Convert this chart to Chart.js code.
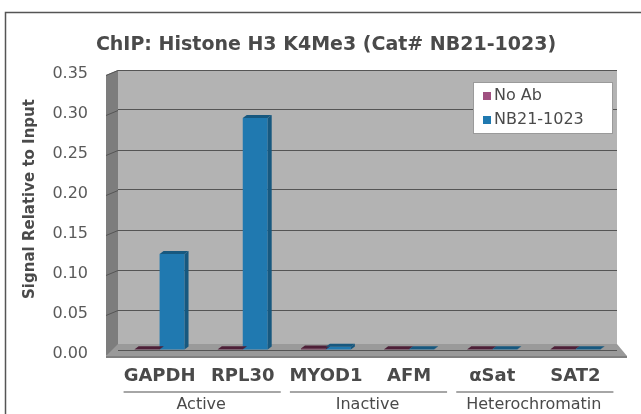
<!DOCTYPE html>
<html>
<head>
<meta charset="utf-8">
<script src="https://cdn.jsdelivr.net/npm/chart.js@4"></script>
<style>
  html, body { margin: 0; padding: 0; background: #fff; }
  #wrap { width: 641px; height: 414px; }
</style>
</head>
<body>
<div id="wrap"><canvas id="chipChart" width="641" height="414"></canvas></div>
<script>
// chart data
const categories = ['GAPDH', 'RPL30', 'MYOD1', 'AFM', 'αSat', 'SAT2'];
const groups = ['Active', 'Inactive', 'Heterochromatin'];
const seriesNames = ['No Ab', 'NB21-1023'];
const noAbValues = [0.001, 0.001, 0.002, 0.001, 0.001, 0.001];
const nb21Values = [0.12, 0.29, 0.004, 0.001, 0.001, 0.001];
const yTicks = [0, 0.05, 0.10, 0.15, 0.20, 0.25, 0.30, 0.35];

const FONT = 'DejaVu Sans';
const TEXT = '#4a4a4a';

// walls, floor, border, titles, group labels and legend
const decor = {
    id: 'decor',
    beforeDraw(chart) {
        const ctx = chart.ctx;
        const a = chart.chartArea;
        const y = chart.scales.y;
        ctx.save();
        // outer frame
        ctx.strokeStyle = '#555';
        ctx.lineWidth = 1.5;
        ctx.strokeRect(5.5, 12.5, 640, 410);
        // back wall
        ctx.fillStyle = '#b3b3b3';
        ctx.fillRect(a.left, a.top, a.right - a.left, a.bottom - a.top);
        // left side wall
        ctx.fillStyle = '#7d7d7d';
        ctx.beginPath();
        ctx.moveTo(a.left - 12, a.top + 5);
        ctx.lineTo(a.left, a.top);
        ctx.lineTo(a.left, a.bottom);
        ctx.lineTo(a.left - 12, a.bottom + 6);
        ctx.closePath();
        ctx.fill();
        // floor
        ctx.fillStyle = '#9a9a9a';
        ctx.beginPath();
        ctx.moveTo(a.left, a.bottom - 6);
        ctx.lineTo(a.right, a.bottom - 6);
        ctx.lineTo(a.right + 10, a.bottom + 6);
        ctx.lineTo(a.left - 12, a.bottom + 6);
        ctx.closePath();
        ctx.fill();
        ctx.fillStyle = '#808080';
        ctx.fillRect(a.left - 12, a.bottom + 6, a.right - a.left + 22, 2);
        // grid lines on side wall
        ctx.strokeStyle = '#555';
        ctx.lineWidth = 1;
        yTicks.forEach(v => {
            if (v === 0) return;
            const py = Math.round(y.getPixelForValue(v)) + 0.5;
            ctx.beginPath();
            ctx.moveTo(a.left - 12, py + 5);
            ctx.lineTo(a.left, py);
            ctx.stroke();
        });
        ctx.restore();
    },
    afterDatasetsDraw(chart) {
        // give each bar a darker right face and a top face
        const ctx = chart.ctx;
        ctx.save();
        chart.data.datasets.forEach((ds, i) => {
            chart.getDatasetMeta(i).data.forEach(bar => {
                const half = bar.width / 2;
                const r = bar.x + half;
                ctx.fillStyle = ds.sideColor;
                ctx.beginPath();
                ctx.moveTo(r, bar.y);
                ctx.lineTo(r + 4, bar.y - 3);
                ctx.lineTo(r + 4, bar.base - 3);
                ctx.lineTo(r, bar.base);
                ctx.closePath();
                ctx.fill();
                ctx.beginPath();
                ctx.moveTo(bar.x - half, bar.y);
                ctx.lineTo(bar.x - half + 4, bar.y - 3);
                ctx.lineTo(r + 4, bar.y - 3);
                ctx.lineTo(r, bar.y);
                ctx.closePath();
                ctx.fill();
            });
        });
        ctx.restore();
    },
    afterDraw(chart) {
        const ctx = chart.ctx;
        const x = chart.scales.x;
        ctx.save();
        // title
        ctx.fillStyle = TEXT;
        ctx.font = 'bold 19px "' + FONT + '"';
        ctx.textAlign = 'center';
        ctx.textBaseline = 'middle';
        ctx.fillText('ChIP: Histone H3 K4Me3 (Cat# NB21-1023)', 326, 45);
        // y axis title
        ctx.save();
        ctx.translate(30, 199);
        ctx.rotate(-Math.PI / 2);
        ctx.font = 'bold 15px "' + FONT + '"';
        ctx.fillText('Signal Relative to Input', 0, 0);
        ctx.restore();
        // group lines and labels under every pair of categories
        ctx.font = '16px "' + FONT + '"';
        groups.forEach((g, i) => {
            const x0 = x.getPixelForValue(i * 2);
            const x1 = x.getPixelForValue(i * 2 + 1);
            ctx.strokeStyle = '#a6a6a6';
            ctx.lineWidth = 2;
            ctx.beginPath();
            ctx.moveTo(x0 - 36, 392);
            ctx.lineTo(x1 + 38, 392);
            ctx.stroke();
            ctx.fillText(g, (x0 + x1) / 2, 405);
        });
        // legend box
        const lx = 473, ly = 82;
        ctx.fillStyle = '#fff';
        ctx.fillRect(lx, ly, 139, 51);
        ctx.strokeStyle = '#9a9a9a';
        ctx.lineWidth = 1;
        ctx.strokeRect(lx + 0.5, ly + 0.5, 139, 51);
        ctx.textAlign = 'left';
        ctx.font = '16px "' + FONT + '"';
        chart.data.datasets.forEach((ds, i) => {
            const cy = ly + 14 + i * 24;
            ctx.fillStyle = ds.legendColor;
            ctx.fillRect(lx + 10, cy - 4, 8, 8);
            ctx.fillStyle = TEXT;
            ctx.fillText(ds.label, lx + 21, cy);
        });
        ctx.restore();
    }
};

new Chart(document.getElementById('chipChart'), {
    type: 'bar',
    data: {
        labels: categories,
        datasets: [
            {
                label: seriesNames[0],
                data: noAbValues,
                backgroundColor: '#6e3050',
                sideColor: '#4e2038',
                legendColor: '#a05080',
                barPercentage: 1.0,
                categoryPercentage: 0.6
            },
            {
                label: seriesNames[1],
                data: nb21Values,
                backgroundColor: '#2079b0',
                sideColor: '#17587f',
                legendColor: '#2079b0',
                barPercentage: 1.0,
                categoryPercentage: 0.6
            }
        ]
    },
    options: {
        responsive: false,
        animation: false,
        layout: { padding: { top: 70, right: 24, left: 0, bottom: 0 } },
        plugins: {
            legend: { display: false },
            tooltip: { enabled: false }
        },
        scales: {
            x: {
                grid: { display: false, drawTicks: false },
                border: { display: false },
                ticks: {
                    color: TEXT,
                    font: { family: FONT, size: 18, weight: 'bold' },
                    padding: 16,
                    maxRotation: 0
                },
                afterFit: s => { s.height = 64; }
            },
            y: {
                min: 0,
                max: 0.35,
                afterBuildTicks: s => { s.ticks = yTicks.map(v => ({ value: v })); },
                grid: { color: '#555', lineWidth: 1, drawTicks: false },
                border: { display: false },
                ticks: {
                    color: '#5a5a5a',
                    font: { family: FONT, size: 16 },
                    padding: 30,
                    labelOffset: 4,
                    callback: v => v.toFixed(2)
                },
                afterFit: s => { s.width = 118; }
            }
        }
    },
    plugins: [decor]
});
</script>
</body>
</html>
